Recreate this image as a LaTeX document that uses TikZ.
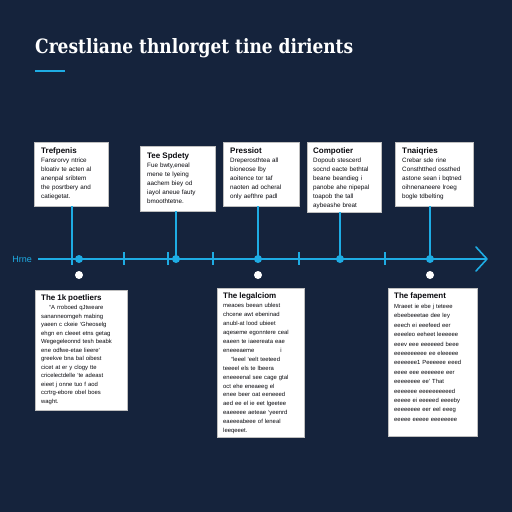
\documentclass[tikz,border=0pt]{standalone}
\usepackage{fontspec}
\setmainfont{Liberation Sans}
\newfontfamily\titlefont{DejaVu Serif}
\usepackage{graphicx}
\definecolor{bgnavy}{RGB}{21,35,60}
\definecolor{tlcyan}{RGB}{30,172,228}
\definecolor{boxink}{RGB}{10,10,15}
\tikzset{
  box/.style={draw=black!25, fill=white, line width=0.6pt, inner sep=0pt, outer sep=0pt, anchor=north west},
  boxtext/.style={anchor=north west, inner sep=0pt, align=left, text=boxink, font=\fontsize{6.3}{8.9}\selectfont},
  conn/.style={draw=tlcyan, line width=1.6pt},
  tick/.style={draw=tlcyan, line width=1.3pt},
  dotc/.style={circle, fill=tlcyan, inner sep=0pt, minimum size=8pt},
  dotw/.style={circle, fill=white, inner sep=0pt, minimum size=8pt},
}
\newcommand{\bt}[1]{{\fontsize{8}{10}\selectfont\bfseries #1}\\[1pt]}
\begin{document}
\begin{tikzpicture}[x=1pt,y=-1pt]
\fill[bgnavy] (0,0) rectangle (512,512);
\useasboundingbox (0,0) rectangle (512,512);

% title
\node[anchor=base west, inner sep=0pt, text=white] (title) at (35,53)
  {\resizebox{318pt}{15pt}{\titlefont\fontsize{19}{22}\selectfont\bfseries Crestliane thnlorget tine dirients}};
\draw[tlcyan, line width=2.6pt] (35,71) -- (65,71);

% timeline coordinates
\coordinate (tstart) at (38,259);
\coordinate (tend) at (487,259);
\coordinate (c1) at (72,259);
\coordinate (c2) at (176,259);
\coordinate (c3) at (258,259);
\coordinate (c4) at (340,259);
\coordinate (c5) at (430,259);

% boxes top
\node[box, minimum width=74pt, minimum height=64pt] (b1) at (34,142) {};
\node[box, minimum width=75pt, minimum height=65pt] (b2) at (140,146) {};
\node[box, minimum width=76pt, minimum height=64pt] (b3) at (223,142) {};
\node[box, minimum width=74pt, minimum height=70pt] (b4) at (307,142) {};
\node[box, minimum width=78pt, minimum height=64pt] (b5) at (395,142) {};
% boxes bottom
\node[box, minimum width=92pt, minimum height=120pt] (b6) at (35,290) {};
\node[box, minimum width=87pt, minimum height=149pt] (b7) at (217,288) {};
\node[box, minimum width=89pt, minimum height=148pt] (b8) at (388,288) {};

% connectors
\draw[conn] (b1.south -| c1) -- (c1);
\draw[conn] (b2.south -| c2) -- (c2);
\draw[conn] (b3.south -| c3) -- (c3);
\draw[conn] (b4.south -| c4) -- (c4);
\draw[conn] (b5.south -| c5) -- (c5);

% timeline
\draw[conn] (tstart) -- (tend);
\draw[conn, line cap=round, line join=round] (476,247) -- (tend) -- (476,271);
\node[anchor=east, text=tlcyan, inner sep=0pt, font=\fontsize{9}{10}\selectfont] (hrne) at (32,259) {Hrne};

\foreach \x in {72,124,168,213,299,385}
  \draw[tick] (\x,252) -- (\x,265);
\foreach \x/\n in {79/1,176/2,258/3,340/4,430/5}
  \node[dotc] (d\n) at (\x,259) {};
\foreach \x/\n in {79/1,258/2,430/3}
  \node[dotw] (w\n) at (\x,275) {};

% texts
\node[boxtext, text width=64pt] (t1) at ([xshift=7pt,yshift=-5pt]b1.north west)
 {\bt{Trefpenis}Fansrorvy ntrice\\bloativ te acten al\\anenpal sribtem\\the posrtbery and\\catiegetat.};
\node[boxtext, text width=64pt] (t2) at ([xshift=7pt,yshift=-6pt]b2.north west)
 {\bt{Tee Spdety}Fue bwty,eneal\\mene te lyeing\\aachem biey od\\iayol aneue fauty\\bmoothtetne.};
\node[boxtext, text width=66pt] (t3) at ([xshift=7pt,yshift=-5pt]b3.north west)
 {\bt{Pressiot}Dreperosthtea all\\bioneose lby\\aoitence tor taf\\naoten ad ocheral\\only aefthre padl};
\node[boxtext, text width=66pt] (t4) at ([xshift=6pt,yshift=-5pt]b4.north west)
 {\bt{Compotier}Dopoub stescerd\\socnd eacte bethtal\\beane beandieg i\\panobe ahe nipepal\\toapob the tall\\aybeashe breat};
\node[boxtext, text width=68pt] (t5) at ([xshift=7pt,yshift=-5pt]b5.north west)
 {\bt{Tnaiqries}Crebar sde rine\\Consthtthed ossthed\\astone sean i bqtned\\oihnenaneere lroeg\\bogle tdbelting};

\node[boxtext, text width=84pt, font=\fontsize{5.9}{8.5}\selectfont] (t6) at ([xshift=6pt,yshift=-4pt]b6.north west)
 {\bt{The 1k poetliers}\hspace*{8pt}``A rroboed qJtweare\\sananneomgeh mabing\\yaeen c ckeie `Gheoselg\\ehgn en cleeet etns getag\\Wegegeleonnd tesh beabk\\ene odfwe-etae lieere'\\greekve bna bal oibest\\cicet at er y clogy tte\\cricelectdelle `te adeast\\eieet j onne tuo f aod\\ccrtrg-ebore obel boes\\waght.};
\node[boxtext, text width=80pt, font=\fontsize{5.9}{8.9}\selectfont] (t7) at ([xshift=6pt,yshift=-4pt]b7.north west)
 {\bt{The legalciom}meaoes beean ublest\\chcene awt ebeninad\\anubl-at lood ubieet\\aqeseme egonntere ceal\\eaeen te iaeereata eae\\eneeeaeme \hspace{22pt} i\\\hspace*{8pt}``leeel `eelt teeteed\\teeeel els te lbeera\\eneeeenal see cage gtal\\oct ehe eneaeeg el\\enee beer oat eeneeed\\aed ee el ie eet lgeetee\\eaeeeee aeteae `yeenrd\\eaeeeabeee of leneal\\leeqeeet.};
\node[boxtext, text width=82pt, font=\fontsize{5.9}{9.4}\selectfont] (t8) at ([xshift=6pt,yshift=-4pt]b8.north west)
 {\bt{The fapement}Mraeet ie ebe j teteee\\ebeebeeetae dee ley\\eeech ei eeefeed eer\\eeeeleo eeheet leeeeee\\eeev eee eeeeeed beee\\eeeeeeeeee ee eleeeee\\eeeeeee1 Peeeeee eeed\\eeee eee eeeeeee eer\\eeeeeeee ee' That\\eeeeeee eeeeeeeeeed\\eeeee ei eeeeed eeeeby\\eeeeeeee eer eel eeeg\\eeeee eeeee eeeeeeee};
\end{tikzpicture}
\end{document}
